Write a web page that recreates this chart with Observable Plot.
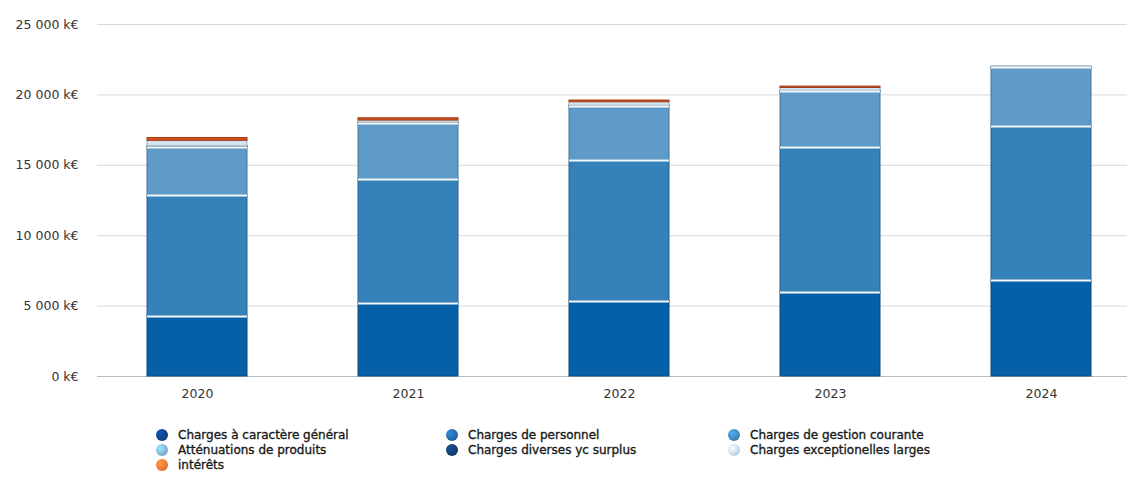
<!DOCTYPE html>
<html>
<head>
<meta charset="utf-8">
<script src="https://cdn.jsdelivr.net/npm/d3@7"></script>
<script src="https://cdn.jsdelivr.net/npm/@observablehq/plot@0.6"></script>
<style>
  body { margin: 0; background: #fff; font-family: "DejaVu Sans", sans-serif; }
  #wrap { width: 1127px; height: 405px; overflow: hidden; }
  #wrap svg { max-width: none !important; }
  #legend { position: relative; width: 1127px; height: 72px; }
  .item { position: absolute; display: flex; align-items: center; font-family: "DejaVu Sans", sans-serif; font-size: 12px; color: #1a1a1a; white-space: nowrap; line-height: 14px; height: 14px; -webkit-text-stroke: 0.35px #1a1a1a; }
  .dot { width: 12px; height: 12px; border-radius: 50%; margin-right: 10px; flex: none; }
</style>
</head>
<body>
<div id="wrap"></div>
<div id="legend"></div>
<script>
const years = ["2020", "2021", "2022", "2023", "2024"];
const series = ["Charges à caractère général", "Charges de personnel", "Charges de gestion courante",
  "Atténuations de produits", "Charges diverses yc surplus", "Charges exceptionelles larges", "intérêts"];
const general = [4260, 5190, 5330, 5970, 6820];
const personnel = [8590, 8800, 10010, 10300, 10940];
const gestion = [3410, 3980, 3840, 3980, 4190];
const attenuations = [60, 40, 30, 20, 10];
const diverses = [20, 20, 20, 20, 10];
const exceptionnelles = [400, 150, 250, 200, 60];
const interets = [200, 160, 120, 100, 0];
const yTicks = [0, 5000, 10000, 15000, 20000, 25000];
const barColors = ["#0660a8", "#3581b9", "#5f9bc9", "#8fb6d8", "#1a4a80", "#d4e5f2", "#d4521f"];
const legendColors = ["#0d3f7f", "#22649f", "#3b80b0", "#78a7cf", "#123a6c", "#b7d1e6", "#e8702e"];

const valueLists = [general, personnel, gestion, attenuations, diverses, exceptionnelles, interets];
const data = [];
series.forEach((s, si) => years.forEach((y, yi) => data.push({year: y, serie: s, value: valueLists[si][yi]})));
const mainSeries = series.slice(0, 3);

const fr = d3.formatLocale({decimal: ",", thousands: " ", grouping: [3], currency: ["", " €"]});
const fmt = d => fr.format(",")(d) + " k€";

const chart = Plot.plot({
  width: 1147,
  height: 405,
  marginLeft: 92,
  marginRight: 0,
  marginTop: 24,
  marginBottom: 29,
  style: {fontFamily: "DejaVu Sans, sans-serif", fontSize: "12.5px", color: "#333", background: "#fff"},
  x: {domain: years, paddingInner: 0.526, paddingOuter: 0.263, label: null, tickSize: 0, tickPadding: 13},
  y: {domain: [0, 25000], ticks: yTicks, tickFormat: fmt, label: null, tickSize: 0, tickPadding: 14},
  color: {domain: series, range: barColors},
  marks: [
    Plot.gridY(yTicks, {stroke: "#d9d9d9", strokeOpacity: 1, insetLeft: 5}),
    Plot.ruleY([0], {stroke: "#bcbcbc", insetLeft: 5}),
    Plot.barY(data.filter(d => d.value > 0), Plot.stackY({order: series, x: "year", y: "value", fill: "serie",
      stroke: d => d3.color(barColors[series.indexOf(d.serie)]).darker(0.8).formatHex(), strokeWidth: 1})),
    Plot.tickY(data.filter(d => d.value > 0), Plot.stackY2({order: series, x: "year", y: "value", z: "serie",
      stroke: d => mainSeries.includes(d.serie) ? "#f4f9fc" : "none", strokeWidth: 2})),
    Plot.axisX({fontSize: 12.5, tickSize: 0, tickPadding: 13, fill: "#333"}),
    Plot.axisY({ticks: yTicks, tickFormat: fmt, tickSize: 0, tickPadding: 14, fill: "#333"})
  ]
});
chart.style.maxWidth = "none";
document.getElementById("wrap").appendChild(chart);

const legend = document.getElementById("legend");
const colX = [156, 446, 728];
series.forEach((s, i) => {
  const div = document.createElement("div");
  div.className = "item";
  div.style.left = colX[i % 3] + "px";
  div.style.top = (23 + Math.floor(i / 3) * 15) + "px";
  div.innerHTML = `<span class="dot" style="background: radial-gradient(circle at 35% 35%, ${d3.color(legendColors[i]).brighter(0.9)}, ${legendColors[i]} 70%)"></span><span>${s}</span>`;
  legend.appendChild(div);
});
</script>
</body>
</html>
